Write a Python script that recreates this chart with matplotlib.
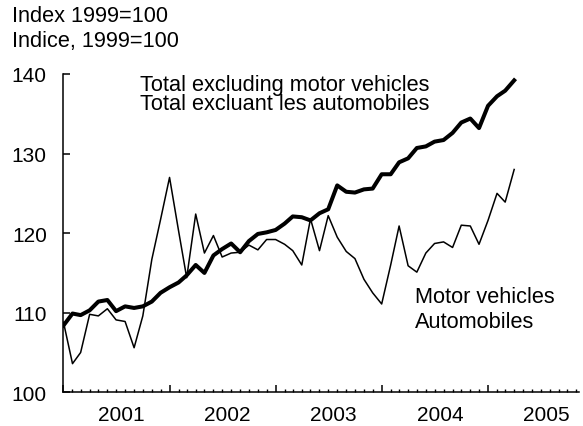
import numpy as np
import pandas as pd
import matplotlib
matplotlib.use("Agg")
import matplotlib.pyplot as plt
import matplotlib.dates as mdates
import matplotlib.transforms as mtransforms

plt.rcParams['font.family'] = ['Liberation Sans', 'DejaVu Sans']

# monthly index values, 1999=100, January 2001 onwards
months = pd.date_range('2001-01-01', periods=52, freq='MS')
total_ex_mv = [108.4, 109.9, 109.7, 110.3, 111.4, 111.6, 110.2, 110.8, 110.6, 110.8,
               111.4, 112.5, 113.2, 113.8, 114.7, 116.0, 115.0, 117.2, 118.0, 118.7,
               117.6, 119.0, 119.9, 120.1, 120.4, 121.2, 122.1, 122.0, 121.6, 122.5,
               123.0, 126.0, 125.2, 125.1, 125.5, 125.6, 127.4, 127.4, 128.9, 129.4,
               130.7, 130.9, 131.5, 131.7, 132.6, 133.9, 134.4, 133.2, 136.0, 137.2,
               137.9, 139.2]
motor_vehicles = [108.8, 103.6, 105.0, 109.8, 109.6, 110.5, 109.1, 108.9, 105.6, 109.6,
                  116.7, 121.7, 127.0, 120.3, 114.4, 122.4, 117.5, 119.7, 117.0, 117.5,
                  117.6, 118.5, 117.9, 119.2, 119.2, 118.6, 117.8, 116.0, 121.8, 117.8,
                  122.2, 119.5, 117.7, 116.8, 114.2, 112.5, 111.1, 116.0, 120.9, 115.9,
                  115.1, 117.5, 118.7, 118.9, 118.2, 121.0, 120.9, 118.6, 121.6, 125.0,
                  123.9, 128.0]
year_labels = ['2001', '2002', '2003', '2004', '2005']
y_ticks = [100, 110, 120, 130, 140]

fig = plt.figure(figsize=(5.83, 4.27), dpi=100)
ax = fig.add_axes([0.1089, 0.0789, 0.8842, 0.7455])

ax.plot(months, total_ex_mv, color='black', lw=2.9, solid_joinstyle='round')
ax.plot(months, motor_vehicles, color='black', lw=1.1, solid_joinstyle='round')

ax.set_ylim(100, 140)
ax.set_xlim(pd.Timestamp('2001-01-01'), pd.Timestamp('2005-11-10'))
ax.set_yticks(y_ticks)

ax.xaxis.set_major_locator(mdates.YearLocator())
ax.xaxis.set_minor_locator(mdates.MonthLocator())
ax.xaxis.set_major_formatter(plt.NullFormatter())

for side in ['top', 'right']:
    ax.spines[side].set_visible(False)
for side in ['left', 'bottom']:
    ax.spines[side].set_linewidth(1.1)

ax.tick_params(axis='y', direction='in', length=5, width=1.1, pad=12, labelsize=15)
ax.tick_params(axis='x', which='major', direction='in', length=5, width=1.1)
ax.tick_params(axis='x', which='minor', direction='in', length=2.5, width=1.0)

# year names centred on each calendar year
trans = mtransforms.blended_transform_factory(ax.transData, ax.transAxes)
for lab in year_labels:
    ax.text(pd.Timestamp(lab + '-07-20'), -0.04, lab, transform=trans,
            ha='center', va='top', fontsize=15)

fs = 15.7
ax.text(pd.Timestamp('2001-09-20'), 138.0, 'Total excluding motor vehicles',
        fontsize=fs, va='baseline')
ax.text(pd.Timestamp('2001-09-20'), 135.6, 'Total excluant les automobiles',
        fontsize=fs, va='baseline')
ax.text(pd.Timestamp('2004-04-25'), 111.3, 'Motor vehicles', fontsize=fs, va='baseline')
ax.text(pd.Timestamp('2004-04-25'), 108.2, 'Automobiles', fontsize=fs, va='baseline')

fig.text(12 / 583, 1 - 22 / 427, 'Index 1999=100', fontsize=fs, va='baseline')
fig.text(12 / 583, 1 - 47 / 427, 'Indice, 1999=100', fontsize=fs, va='baseline')

fig.savefig('out.png', dpi=100)
